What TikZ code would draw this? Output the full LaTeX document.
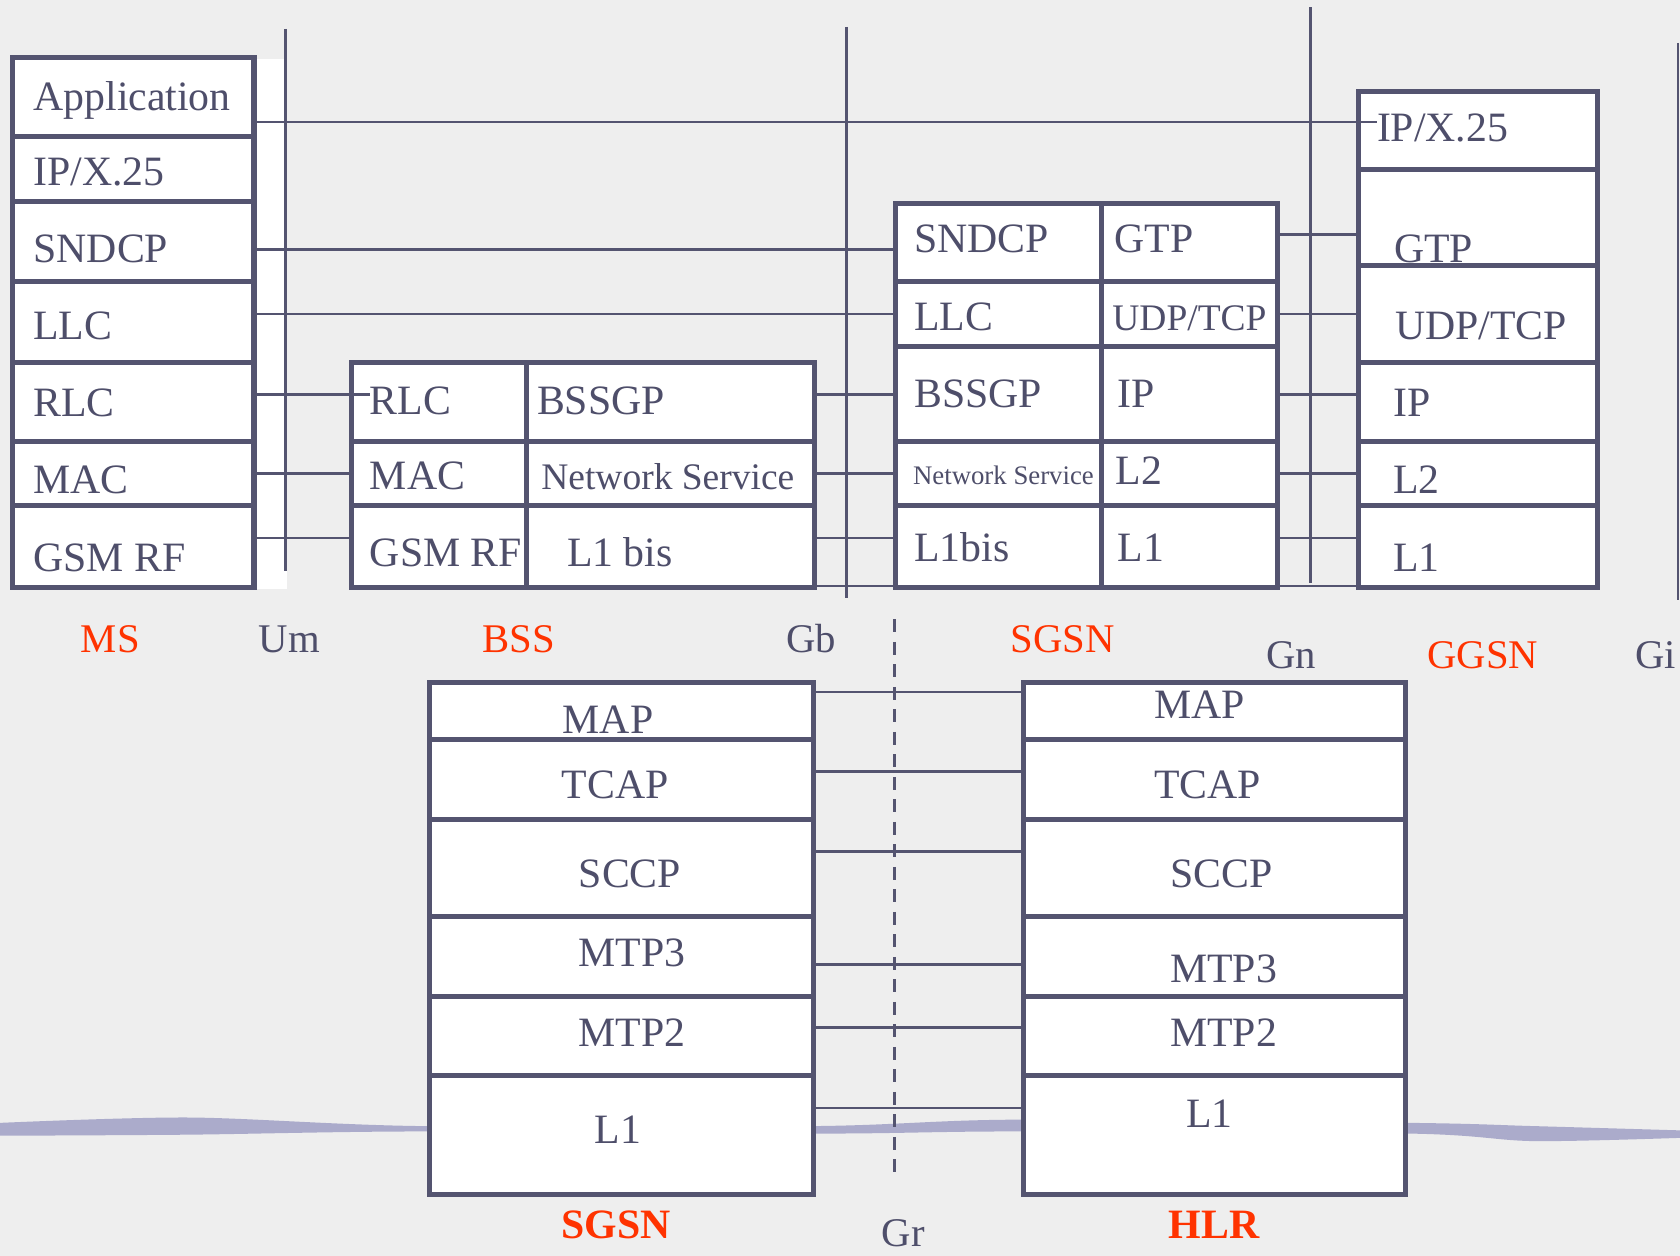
\documentclass[tikz,border=0pt]{standalone}
\usepackage{fontspec}
\setmainfont{Liberation Serif}
\usetikzlibrary{calc}
\definecolor{slideback}{HTML}{EEEEEE}
\definecolor{stackline}{HTML}{545470}
\definecolor{stacktext}{HTML}{4E4E6A}
\definecolor{nodered}{HTML}{FF3300}
\definecolor{wavelilac}{HTML}{ABABCB}
\tikzset{
  cell/.style={rectangle, draw=stackline, line width=4.8pt, fill=white, inner sep=0pt},
  lbl/.style={anchor=base west, inner sep=0pt, text=stacktext, font=\fontsize{39}{42}\selectfont},
  midlbl/.style={lbl, font=\fontsize{35}{38}\selectfont},
  tinylbl/.style={lbl, font=\fontsize{25}{28}\selectfont},
  netname/.style={anchor=base, inner sep=0pt, text=nodered, font=\fontsize{38}{40}\selectfont},
  boldname/.style={netname, font=\fontsize{39}{42}\selectfont\bfseries},
  iface/.style={anchor=base, inner sep=0pt, text=stacktext, font=\fontsize{38}{40}\selectfont},
  link/.style={draw=stackline, line width=2.5pt},
  baseline link/.style={draw=stackline, line width=1.2pt},
  refline/.style={draw=stackline, line width=2.5pt},
  grline/.style={draw=stackline, line width=3pt, dash pattern=on 12pt off 9pt}
}
\newcommand{\protocell}[9][lbl]{
  \node[cell, minimum width={#5-#3}, minimum height={#6-#4}] (#2) at ({(#3+#5)/2},{(#4+#6)/2}) {};
  \node[#1] (#2t) at (#7,#8) {#9};
}
\newcommand{\peer}[4][link]{
  \coordinate (lvl) at (0,#4);
  \draw[#1] (#2.east |- lvl) -- (#3.west |- lvl);
}

\begin{document}
\begin{tikzpicture}[x=1pt, y=-1pt]
\useasboundingbox (0,0) rectangle (1568,1172);
\fill[slideback] (0,0) rectangle (1568,1172);
\fill[wavelilac] plot[smooth] coordinates {(0,1048) (177,1043) (393,1051) (760,1051) (949,1045) (1316,1048) (1431,1051) (1568,1055)}
  -- plot[smooth] coordinates {(1568,1062) (1431,1065) (1316,1058) (949,1056) (763,1058) (393,1056) (177,1059) (0,1060)} -- cycle;
\fill[white] (237,55) rectangle (268,550);

\draw[refline] (266.5,27) -- (266.5,533);
\draw[refline] (790,25) -- (790,558);
\draw[refline] (1223,7) -- (1223,544);
\draw[refline] (1566,40) -- (1566,560);
\draw[grline] (835,578) -- (835,1094);

\protocell{msapp}{12}{54}{237}{127}{31}{103}{Application}
\protocell{msip}{12}{127}{237}{188}{31}{173}{IP/X.25}
\protocell{mssndcp}{12}{188}{237}{263}{31}{245}{SNDCP}
\protocell{msllc}{12}{263}{237}{338}{31}{317}{LLC}
\protocell{msrlc}{12}{338}{237}{412}{31}{389}{RLC}
\protocell{msmac}{12}{412}{237}{472}{31}{461}{MAC}
\protocell{msrf}{12}{472}{237}{548}{31}{533}{GSM RF}

\protocell{bssrlc}{328}{338}{491}{412}{345}{387}{RLC}
\protocell{bssgp}{491}{338}{760}{412}{501}{387}{BSSGP}
\protocell{bssmac}{328}{412}{491}{472}{345}{457}{MAC}
\protocell[midlbl]{bssns}{491}{412}{760}{472}{505}{457}{Network Service}
\protocell{bssrf}{328}{472}{491}{548}{345}{529}{GSM RF}
\protocell{bssl1}{491}{472}{760}{548}{529}{529}{L1 bis}

\protocell{sgsndcp}{836}{190}{1028}{263}{853}{236}{SNDCP}
\protocell{sggtp}{1028}{190}{1192}{263}{1040}{236}{GTP}
\protocell{sgllc}{836}{263}{1028}{323}{853}{308}{LLC}
\protocell[midlbl]{sgudp}{1028}{263}{1192}{323}{1038}{308}{UDP/TCP}
\protocell{sgbssgp}{836}{323}{1028}{412}{853}{380}{BSSGP}
\protocell{sgip}{1028}{323}{1192}{412}{1043}{380}{IP}
\protocell[tinylbl]{sgns}{836}{412}{1028}{472}{852}{452}{Network Service}
\protocell{sgl2}{1028}{412}{1192}{472}{1041}{452}{L2}
\protocell{sgl1bis}{836}{472}{1028}{548}{853}{524}{L1bis}
\protocell{sgl1}{1028}{472}{1192}{548}{1043}{524}{L1}

\protocell{ggipx}{1268}{85}{1491}{158}{1285}{132}{IP/X.25}
\protocell{gggtp}{1268}{158}{1491}{248}{1301}{245}{GTP}
\protocell{ggudp}{1268}{248}{1491}{338}{1302}{317}{UDP/TCP}
\protocell{ggip}{1268}{338}{1491}{412}{1300}{389}{IP}
\protocell{ggl2}{1268}{412}{1491}{472}{1300}{461}{L2}
\protocell{ggl1}{1268}{472}{1491}{548}{1300}{533}{L1}

\protocell{sgmap}{401}{637}{759}{690}{525}{685}{MAP}
\protocell{sgtcap}{401}{690}{759}{765}{524}{745}{TCAP}
\protocell{sgsccp}{401}{765}{759}{855}{540}{828}{SCCP}
\protocell{sgmtp3}{401}{855}{759}{930}{540}{902}{MTP3}
\protocell{sgmtp2}{401}{930}{759}{1004}{540}{977}{MTP2}
\protocell{sgl1low}{401}{1004}{759}{1115}{555}{1067}{L1}

\protocell{hlrmap}{955}{637}{1312}{690}{1077}{671}{MAP}
\protocell{hlrtcap}{955}{690}{1312}{765}{1077}{745}{TCAP}
\protocell{hlrsccp}{955}{765}{1312}{855}{1092}{828}{SCCP}
\protocell{hlrmtp3}{955}{855}{1312}{930}{1092}{917}{MTP3}
\protocell{hlrmtp2}{955}{930}{1312}{1004}{1092}{977}{MTP2}
\protocell{hlrl1}{955}{1004}{1312}{1115}{1107}{1052}{L1}

\peer{msapp}{ggipxt}{114}
\peer{mssndcp}{sgsndcp}{233}
\peer{msllc}{sgllc}{293}
\peer{msrlc}{bssrlct}{368}
\peer{msmac}{bssmac}{442}
\peer{msrf}{bssrf}{502}
\peer{bssgp}{sgbssgp}{368}
\peer{bssns}{sgns}{442}
\peer{bssl1}{sgl1bis}{502}
\peer[baseline link]{bssl1}{sgl1bis}{547}
\peer{sggtp}{gggtp}{219}
\peer{sgudp}{ggudp}{293}
\peer{sgip}{ggip}{368}
\peer{sgl2}{ggl2}{442}
\peer{sgl1}{ggl1}{502}
\peer[baseline link]{sgl1}{ggl1}{547}
\peer{sgmap}{hlrmap}{646}
\peer{sgtcap}{hlrtcap}{720}
\peer{sgsccp}{hlrsccp}{795}
\peer{sgmtp3}{hlrmtp3}{900}
\peer{sgmtp2}{hlrmtp2}{959}
\peer{sgl1low}{hlrl1}{1034}

\node[netname] (msname) at (103,609) {MS};
\node[iface] (um) at (270,609) {Um};
\node[netname] (bssname) at (484,609) {BSS};
\node[iface] (gb) at (757,609) {Gb};
\node[netname] (sgsnname) at (992,609) {SGSN};
\node[iface] (gn) at (1205,624) {Gn};
\node[netname] (ggsnname) at (1384,624) {GGSN};
\node[iface] (gi) at (1545,624) {Gi};
\node[boldname] (sgsnlow) at (575,1156) {SGSN};
\node[iface] (gr) at (843,1163) {Gr};
\node[boldname] (hlrname) at (1133,1156) {HLR};
\end{tikzpicture}
\end{document}
